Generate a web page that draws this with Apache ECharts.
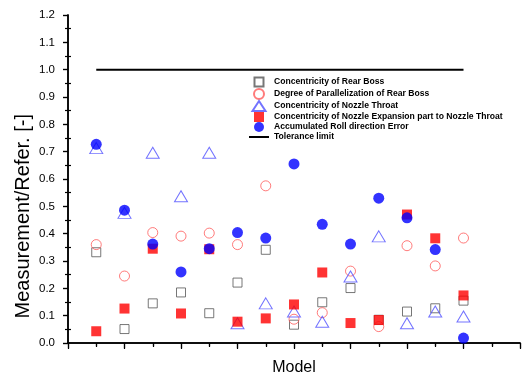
<!DOCTYPE html>
<html>
<head>
<meta charset="utf-8">
<script src="https://cdn.jsdelivr.net/npm/echarts@6/dist/echarts.min.js"></script>
<style>html,body{margin:0;padding:0;background:#fff;}#c{width:524px;height:381px;}</style>
</head>
<body>
<div id="c"></div>
<script>
const models = [1, 2, 3, 4, 5, 6, 7, 8, 9, 10, 11, 12, 13, 14];
const rearBossConcentricity = [0.332, 0.051, 0.145, 0.185, 0.109, 0.221, 0.341, 0.067, 0.149, 0.201, 0.085, 0.115, 0.127, 0.155];
const rearBossParallelization = [0.360, 0.245, 0.404, 0.391, 0.402, 0.360, 0.575, 0.087, 0.111, 0.263, 0.060, 0.356, 0.282, 0.384];
const nozzleThroatConcentricity = [0.713, 0.476, 0.696, 0.537, 0.696, 0.072, 0.145, 0.115, 0.078, 0.243, 0.390, 0.072, 0.115, 0.097];
const expansionConcentricity = [0.043, 0.126, 0.345, 0.108, 0.343, 0.078, 0.090, 0.141, 0.258, 0.073, 0.084, 0.470, 0.383, 0.174];
const rollError = [0.727, 0.486, 0.362, 0.260, 0.345, 0.404, 0.384, 0.655, 0.434, 0.362, 0.530, 0.458, 0.342, 0.018];
const toleranceLimit = 1.0;
const yTicks = { min: 0, max: 1.2, interval: 0.1 };

const pairs = arr => models.map((m, i) => [m, arr[i]]);
const FONT = 'Liberation Sans, Arial, sans-serif';

const chart = echarts.init(document.getElementById('c'), null, { renderer: 'canvas' });
const axisLine = { show: true, lineStyle: { color: '#000', width: 1.5 } };
const BOX = 'M0,0 M20,10 ';

chart.setOption({
  animation: false,
  backgroundColor: '#fff',
  grid: { left: 68, right: 4, top: 15, bottom: 32, containLabel: false },
  legend: {
    orient: 'vertical',
    left: 248,
    top: 76,
    padding: 0,
    itemWidth: 20,
    itemHeight: 10,
    itemGap: 0,
    symbolKeepAspect: true,
    textStyle: { fontFamily: FONT, fontSize: 8.6, fontWeight: 'bold', color: '#000', lineHeight: 10 },
    data: [
      { name: 'Concentricity of Rear Boss', icon: 'path://' + BOX + 'M5.5,0.5 L14.5,0.5 L14.5,9.5 L5.5,9.5 Z' },
      { name: 'Degree of Parallelization of Rear Boss', icon: 'circle' },
      { name: 'Concentricity of Nozzle Throat', icon: 'path://' + BOX + 'M10,0 L16.5,10 L3.5,10 Z' },
      { name: 'Concentricity of Nozzle Expansion part to Nozzle Throat', icon: 'path://' + BOX + 'M5,0 L15,0 L15,10 L5,10 Z' },
      { name: 'Accumulated Roll direction Error', icon: 'circle' },
      { name: 'Tolerance limit', icon: 'path://' + BOX + 'M0,4 L20,4 L20,6 L0,6 Z' }
    ]
  },
  xAxis: [
    {
      type: 'value', position: 'bottom', min: 0, max: 16, interval: 2,
      name: 'Model', nameLocation: 'middle', nameGap: 17,
      nameTextStyle: { fontFamily: FONT, fontSize: 16, color: '#000' },
      axisLine: axisLine,
      axisTick: { show: true, inside: false, length: 6, lineStyle: { color: '#000', width: 1.2 } },
      minorTick: { show: true, splitNumber: 2, length: 4, lineStyle: { color: '#000', width: 1.2 } },
      axisLabel: { show: false },
      splitLine: { show: false }
    },
    {
      type: 'value', position: 'top', min: 0, max: 16, interval: 2,
      axisLine: axisLine,
      axisTick: { show: true, inside: true, length: 5, lineStyle: { color: '#000', width: 1.2 } },
      minorTick: { show: true, splitNumber: 2, length: 3, lineStyle: { color: '#000', width: 1.2 } },
      axisLabel: { show: false },
      splitLine: { show: false }
    }
  ],
  yAxis: [
    {
      type: 'value', position: 'left', min: yTicks.min, max: yTicks.max, interval: yTicks.interval,
      axisLine: axisLine,
      axisTick: { show: true, inside: false, length: 5, lineStyle: { color: '#000', width: 1.2 } },
      axisLabel: { show: true, margin: 13, fontFamily: FONT, fontSize: 11.5, color: '#000', formatter: v => v.toFixed(1) },
      splitLine: { show: false }
    },
    {
      type: 'value', position: 'right', min: yTicks.min, max: yTicks.max, interval: yTicks.interval,
      axisLine: axisLine,
      axisTick: { show: true, inside: true, length: 5, lineStyle: { color: '#000', width: 1.2 } },
      minorTick: { show: true, splitNumber: 2, length: 3, lineStyle: { color: '#000', width: 1.2 } },
      axisLabel: { show: false },
      splitLine: { show: false }
    },
    {
      type: 'value', position: 'left', min: yTicks.min, max: yTicks.max, interval: yTicks.interval,
      axisLine: { show: false },
      axisTick: { show: true, inside: true, length: 0, lineStyle: { color: '#000', width: 1.2 } },
      minorTick: { show: true, splitNumber: 2, length: 3, lineStyle: { color: '#000', width: 1.2 } },
      axisLabel: { show: false },
      splitLine: { show: false }
    }
  ],
  graphic: [
    {
      type: 'text', left: 13, top: 114,
      rotation: Math.PI / 2,
      style: { text: 'Measurement/Refer. [-]', fontFamily: FONT, fontSize: 20, fill: '#000' }
    }
  ],
  series: [
    {
      name: 'Concentricity of Rear Boss', type: 'scatter', symbol: 'rect', symbolSize: 9,
      itemStyle: { color: 'rgba(255,255,255,0)', borderColor: '#555', borderWidth: 1 },
      data: pairs(rearBossConcentricity), z: 2
    },
    {
      name: 'Degree of Parallelization of Rear Boss', type: 'scatter', symbol: 'circle', symbolSize: 10,
      itemStyle: { color: 'rgba(255,255,255,0)', borderColor: '#ff5a5a', borderWidth: 1 },
      data: pairs(rearBossParallelization), z: 3
    },
    {
      name: 'Concentricity of Nozzle Throat', type: 'scatter', symbol: 'triangle', symbolSize: [13, 11],
      itemStyle: { color: 'rgba(255,255,255,0)', borderColor: '#5050ff', borderWidth: 1 },
      data: pairs(nozzleThroatConcentricity), z: 4
    },
    {
      name: 'Concentricity of Nozzle Expansion part to Nozzle Throat', type: 'scatter', symbol: 'rect', symbolSize: 10,
      itemStyle: { color: '#ff0000' },
      data: pairs(expansionConcentricity), z: 5
    },
    {
      name: 'Accumulated Roll direction Error', type: 'scatter', symbol: 'circle', symbolSize: 11,
      itemStyle: { color: '#0000ff' },
      data: pairs(rollError), z: 6
    },
    {
      name: 'Tolerance limit', type: 'line', symbol: 'none',
      lineStyle: { color: '#000', width: 2 },
      itemStyle: { color: '#000' },
      data: [[models[0], toleranceLimit], [models[models.length - 1], toleranceLimit]], z: 1
    }
  ]
});
</script>
</body>
</html>
